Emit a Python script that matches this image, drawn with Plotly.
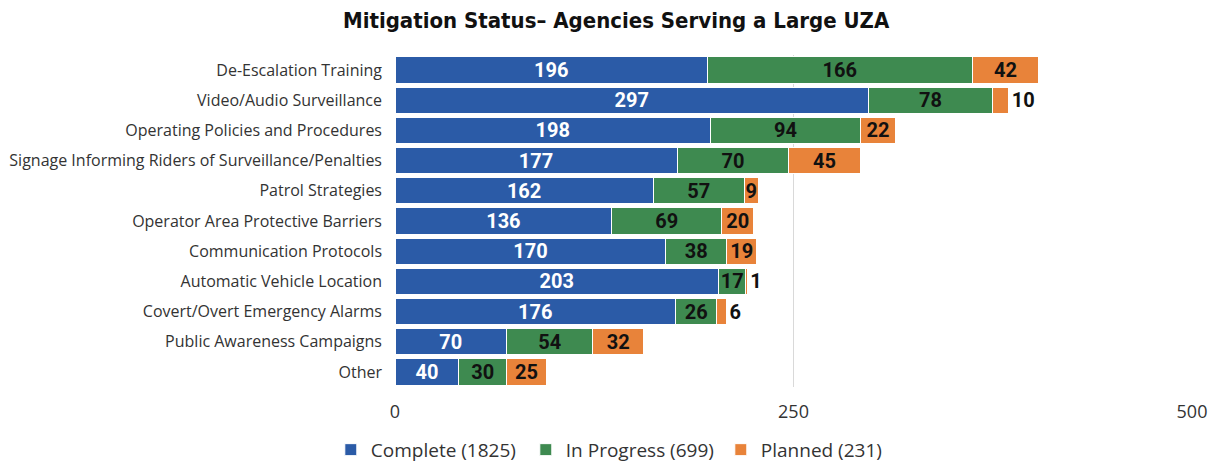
import plotly.graph_objects as go

categories = [
    "De-Escalation Training",
    "Video/Audio Surveillance",
    "Operating Policies and Procedures",
    "Signage Informing Riders of Surveillance/Penalties",
    "Patrol Strategies",
    "Operator Area Protective Barriers",
    "Communication Protocols",
    "Automatic Vehicle Location",
    "Covert/Overt Emergency Alarms",
    "Public Awareness Campaigns",
    "Other",
]
complete = [196, 297, 198, 177, 162, 136, 170, 203, 176, 70, 40]
in_progress = [166, 78, 94, 70, 57, 69, 38, 17, 26, 54, 30]
planned = [42, 10, 22, 45, 9, 20, 19, 1, 6, 32, 25]
series_names = ["Complete (1825)", "In Progress (699)", "Planned (231)"]
x_ticks = [0, 250, 500]

colors = ["#2B5BA7", "#3E8A50", "#E8833A"]
label_font = "Roboto, Liberation Sans, sans-serif"
title_font = "DejaVu Sans Condensed, DejaVu Sans, sans-serif"
text_font = "Open Sans, Liberation Sans, sans-serif"

# page body has an 8px margin, so the figure is 8px smaller than the window
W, H = 1209, 455

fig = go.Figure()
data = [complete, in_progress, planned]
for i, (name, vals) in enumerate(zip(series_names, data)):
    if i == 2:
        tpos = ["outside" if v <= 10 and v != 9 else "inside" for v in vals]
    else:
        tpos = "inside"
    fig.add_trace(go.Bar(
        y=categories,
        x=vals,
        name=name,
        orientation="h",
        marker=dict(color=colors[i], line=dict(color="white", width=1)),
        text=vals,
        textposition=tpos,
        insidetextanchor="middle",
        constraintext="none",
        textangle=0,
        cliponaxis=False,
        insidetextfont=dict(family=label_font, size=20,
                            color="white" if i == 0 else "#111111",
                            weight="bold"),
        outsidetextfont=dict(family=label_font, size=20, color="#111111",
                             weight="bold"),
        hoverinfo="x+y+name",
    ))

fig.update_layout(
    barmode="stack",
    bargap=0.13,
    width=W,
    height=H,
    margin=dict(l=387, r=25, t=47, b=76, autoexpand=False),
    plot_bgcolor="white",
    paper_bgcolor="white",
    title=dict(
        text="<b>Mitigation Status– Agencies Serving a Large UZA</b>",
        x=0.503, xanchor="center", xref="container",
        y=0.974, yanchor="middle", yref="container",
        font=dict(family=title_font, size=22, color="#111111"),
    ),
    xaxis=dict(
        range=[0, 500],
        tickvals=x_ticks,
        showgrid=True,
        gridcolor="#D9D9D9",
        gridwidth=1,
        zeroline=False,
        showline=False,
        ticks="",
        automargin=False,
        tickfont=dict(family=text_font, size=18, color="#333333"),
        ticklabelstandoff=12,
    ),
    yaxis=dict(
        autorange="reversed",
        ticks="",
        showline=False,
        automargin=False,
        tickfont=dict(family=text_font, size=16, color="#333333"),
        ticklabelstandoff=12,
    ),
    legend=dict(
        orientation="h",
        xref="container", yref="container",
        x=0.267, xanchor="left",
        y=0.029, yanchor="middle",
        font=dict(family=text_font, size=19, color="#333333"),
        traceorder="normal",
        itemwidth=30,
        entrywidth=150,
        entrywidthmode="pixels",
    ),
    showlegend=True,
)

fig.write_html("out.html")
